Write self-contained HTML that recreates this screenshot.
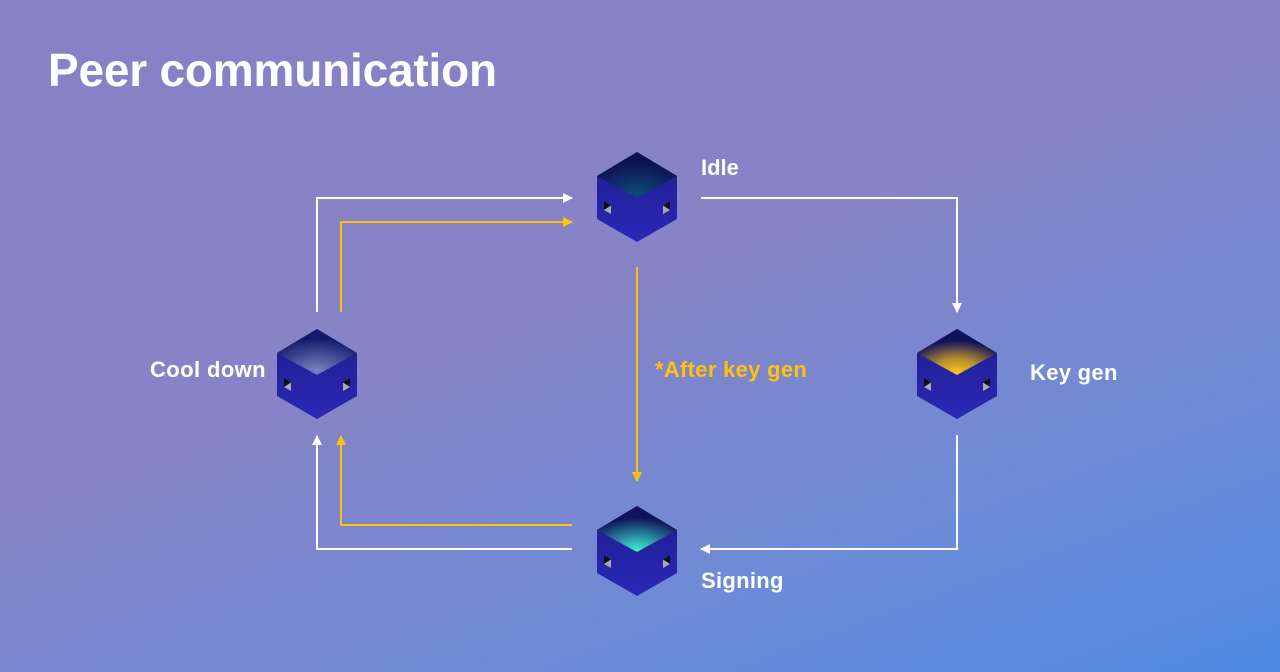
<!DOCTYPE html>
<html><head><style>
html,body{margin:0;padding:0}
body{width:1280px;height:672px;overflow:hidden;background:linear-gradient(160deg,#8782c6 0%,#8683c6 45%,#6e8bd6 75%,#4f8be4 100%);font-family:"Liberation Sans",sans-serif;position:relative}
.t{position:absolute;color:#fff;font-weight:bold;white-space:nowrap}
</style></head><body>
<div class="t" style="left:48px;top:43px;font-size:46px;letter-spacing:-0.2px">Peer communication</div>
<div class="t" style="left:701px;top:155px;font-size:22px">Idle</div>
<div class="t" style="left:150px;top:357px;font-size:22px;letter-spacing:0.4px">Cool down</div>
<div class="t" style="left:1030px;top:360px;font-size:22px;letter-spacing:0.3px">Key gen</div>
<div class="t" style="left:701px;top:568px;font-size:22px;letter-spacing:0.3px">Signing</div>
<div class="t" style="left:655px;top:357px;font-size:22px;color:#ffc20e;letter-spacing:0.3px">*After key gen</div>
<svg width="1280" height="672" style="position:absolute;left:0;top:0">
<defs>
<radialGradient id="gi" cx="0.5" cy="0.9" r="0.7"><stop offset="0" stop-color="#0f4a7a"/><stop offset="1" stop-color="#0d1050"/></radialGradient>
<radialGradient id="gc" cx="0.5" cy="0.9" r="0.7"><stop offset="0" stop-color="#7a82c0"/><stop offset="1" stop-color="#141a6a"/></radialGradient>
<radialGradient id="gk" cx="0.5" cy="0.95" r="0.7"><stop offset="0" stop-color="#ffc814"/><stop offset="0.45" stop-color="#b08a30"/><stop offset="1" stop-color="#10125a"/></radialGradient>
<radialGradient id="gs" cx="0.5" cy="0.95" r="0.7"><stop offset="0" stop-color="#38f0c8"/><stop offset="0.45" stop-color="#2a8aa0"/><stop offset="1" stop-color="#10125a"/></radialGradient>
<linearGradient id="side" x1="0" y1="0" x2="0" y2="1"><stop offset="0" stop-color="#1e1e8c"/><stop offset="1" stop-color="#2a28b8"/></linearGradient>
<g id="cube">
<path d="M0,0 L40,24 L40,67 L0,90 L-40,67 L-40,24 Z" fill="url(#side)"/>
<path d="M-33,49 L-33,58 L-26,53.5 Z" fill="#111"/><path d="M-33,58 L-26,53.5 L-26,62 Z" fill="#aaa"/>
<path d="M33,49 L33,58 L26,53.5 Z" fill="#111"/><path d="M33,58 L26,53.5 L26,62 Z" fill="#aaa"/>
</g>
<marker id="aw" markerWidth="12" markerHeight="12" refX="9" refY="6" orient="auto" markerUnits="userSpaceOnUse"><path d="M0,1 L10,6 L0,11 Z" fill="#fff"/></marker>
<marker id="ay" markerWidth="12" markerHeight="12" refX="9" refY="6" orient="auto" markerUnits="userSpaceOnUse"><path d="M0,1 L10,6 L0,11 Z" fill="#ffc20e"/></marker>
</defs>
<g fill="none" stroke-width="2">
<path d="M317,312 V198 H572" stroke="#fff" marker-end="url(#aw)"/>
<path d="M341,312 V222 H572" stroke="#ffc20e" marker-end="url(#ay)"/>
<path d="M701,198 H957 V312" stroke="#fff" marker-end="url(#aw)"/>
<path d="M957,435 V549 H701" stroke="#fff" marker-end="url(#aw)"/>
<path d="M572,549 H317 V436" stroke="#fff" marker-end="url(#aw)"/>
<path d="M572,525 H341 V436" stroke="#ffc20e" marker-end="url(#ay)"/>
<path d="M637,267 V481" stroke="#ffc20e" marker-end="url(#ay)"/>
</g>
<g transform="translate(637,152)"><use href="#cube"/><path d="M0,0 L40,24 L0,46 L-40,24 Z" fill="url(#gi)"/></g>
<g transform="translate(317,329)"><use href="#cube"/><path d="M0,0 L40,24 L0,46 L-40,24 Z" fill="url(#gc)"/></g>
<g transform="translate(957,329)"><use href="#cube"/><path d="M0,0 L40,24 L0,46 L-40,24 Z" fill="url(#gk)"/></g>
<g transform="translate(637,506)"><use href="#cube"/><path d="M0,0 L40,24 L0,46 L-40,24 Z" fill="url(#gs)"/></g>
</svg>
</body></html>
